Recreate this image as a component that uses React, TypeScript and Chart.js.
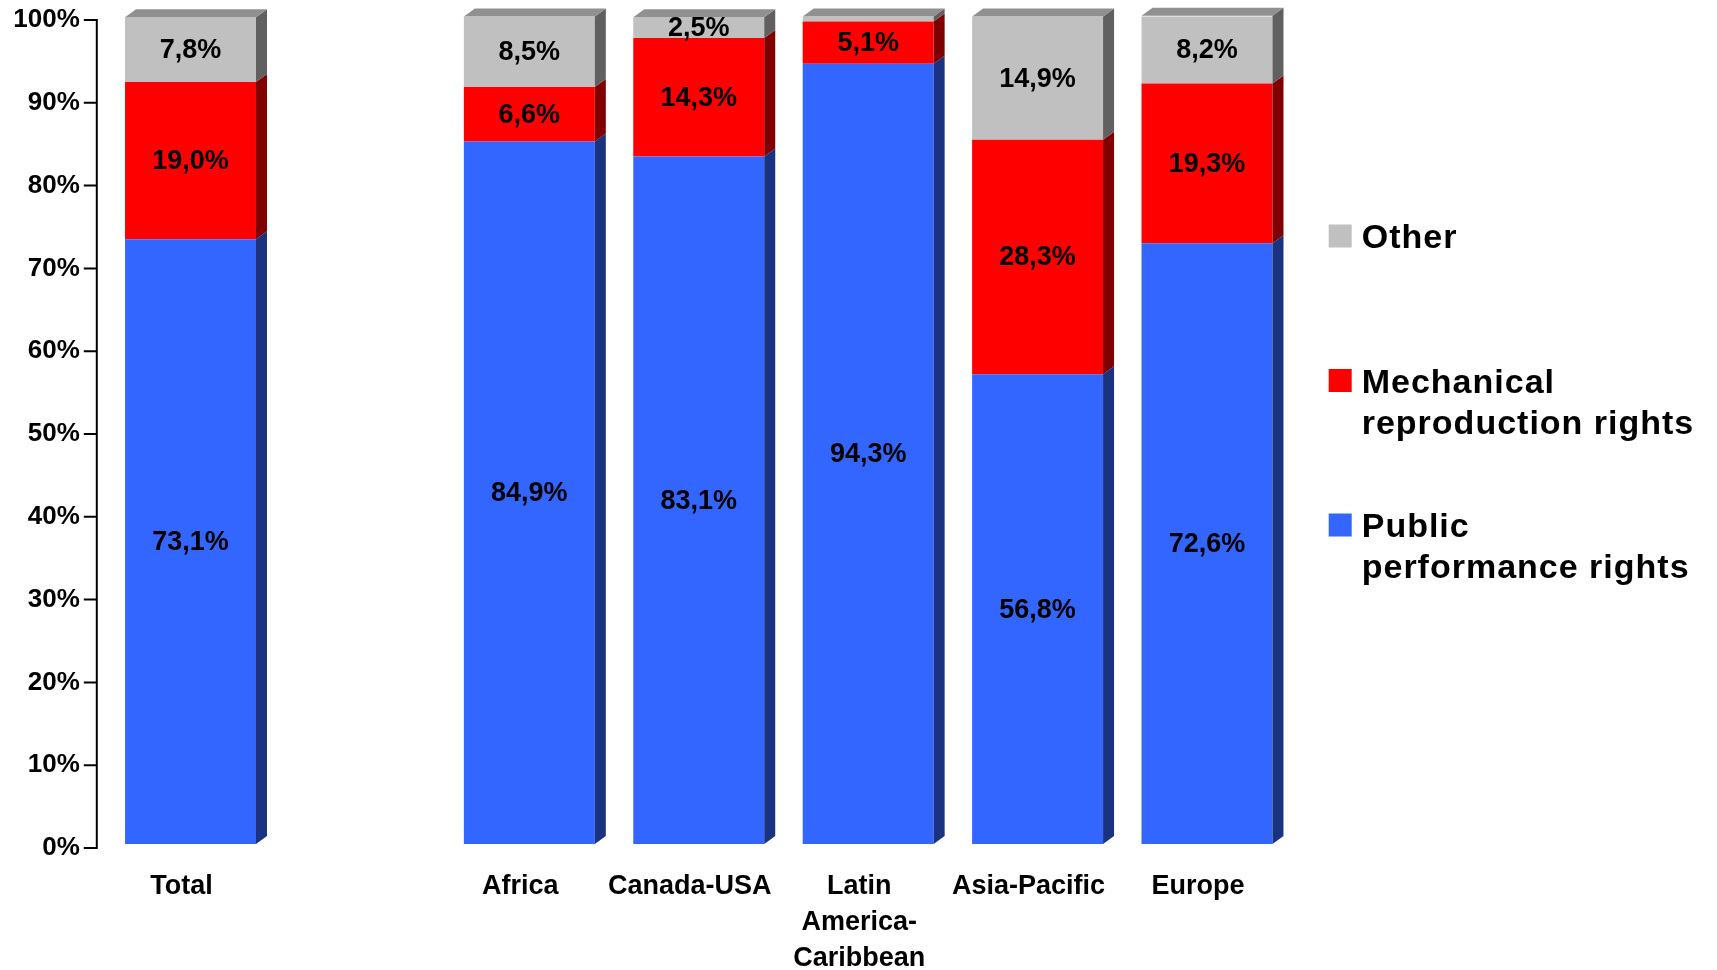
import React, { useEffect, useRef } from 'react';
import { Chart, registerables } from 'chart.js';

Chart.register(...registerables);

// Regions along the x axis; the empty slot separates the total from the regions.
const categories: (string | string[])[] = [
  'Total',
  '',
  'Africa',
  'Canada-USA',
  ['Latin', 'America-', 'Caribbean'],
  'Asia-Pacific',
  'Europe',
];

// Share of collections per right type, in percent.
const publicPerformance = [73.1, null, 84.9, 83.1, 94.3, 56.8, 72.6];
const mechanicalReproduction = [19.0, null, 6.6, 14.3, 5.1, 28.3, 19.3];
const otherRights = [7.8, null, 8.5, 2.5, 0.6, 14.9, 8.2];

const yTickValues = [0, 10, 20, 30, 40, 50, 60, 70, 80, 90, 100];

const seriesNames = ['Public performance rights', 'Mechanical reproduction rights', 'Other'];
const legendLines = [['Public', 'performance rights'], ['Mechanical', 'reproduction rights'], ['Other']];

const frontColors = ['#3366FF', '#FF0000', '#C0C0C0'];
const sideColors = ['#1A3380', '#800000', '#606060'];
const topColors = ['#2650BF', '#BF0000', '#909090'];

const FONT = '"Liberation Sans", Arial, Helvetica, sans-serif';
const DEPTH_X = 11;
const DEPTH_Y = 8;
const FRONT_LIFT = 3.5;
const CLEAR = 'rgba(0,0,0,0)';

const fmt = (v: number) => v.toFixed(1).replace('.', ',') + '%';

// Raises the bars (and their faces and labels) slightly above the floor line,
// as in a 3-D view. Listed last so its restore runs after the other dataset hooks.
const frontLift = {
  id: 'frontLift',
  beforeDatasetsDraw(chart: any) {
    chart.ctx.save();
    chart.ctx.translate(0, -FRONT_LIFT);
  },
  afterDatasetsDraw(chart: any) {
    chart.ctx.restore();
  },
};

// Side and top faces that give the bars their block look.
const depthFaces = {
  id: 'depthFaces',
  afterDatasetsDraw(chart: any) {
    const ctx = chart.ctx;
    const n = chart.data.datasets.length;
    ctx.save();
    chart.data.datasets.forEach((ds: any, i: number) => {
      const meta = chart.getDatasetMeta(i);
      meta.data.forEach((el: any, j: number) => {
        const v = ds.data[j];
        if (v == null) return;
        const { x, y, base, width } = el.getProps(['x', 'y', 'base', 'width'], true);
        const left = x - width / 2;
        const right = x + width / 2;
        const top = Math.min(y, base);
        const bottom = Math.max(y, base);
        ctx.fillStyle = sideColors[i];
        ctx.beginPath();
        ctx.moveTo(right, bottom);
        ctx.lineTo(right + DEPTH_X, bottom - DEPTH_Y);
        ctx.lineTo(right + DEPTH_X, top - DEPTH_Y);
        ctx.lineTo(right, top);
        ctx.closePath();
        ctx.fill();
        if (i === n - 1) {
          ctx.fillStyle = topColors[i];
          ctx.beginPath();
          ctx.moveTo(left, top);
          ctx.lineTo(left + DEPTH_X, top - DEPTH_Y);
          ctx.lineTo(right + DEPTH_X, top - DEPTH_Y);
          ctx.lineTo(right, top);
          ctx.closePath();
          ctx.fill();
        }
      });
    });
    ctx.restore();
  },
};

// Percentage printed in the middle of each segment.
const valueLabels = {
  id: 'valueLabels',
  afterDatasetsDraw(chart: any) {
    const ctx = chart.ctx;
    ctx.save();
    ctx.font = `bold 27px ${FONT}`;
    ctx.fillStyle = '#000';
    ctx.textAlign = 'center';
    ctx.textBaseline = 'middle';
    chart.data.datasets.forEach((ds: any, i: number) => {
      const meta = chart.getDatasetMeta(i);
      meta.data.forEach((el: any, j: number) => {
        const v = ds.data[j];
        if (v == null || v < 1) return;
        const { x, y, base } = el.getProps(['x', 'y', 'base'], true);
        ctx.fillText(fmt(v), x, (y + base) / 2 + 1);
      });
    });
    ctx.restore();
  },
};

// Value axis line with outward tick marks, set a little left of the bars.
const valueAxisLine = {
  id: 'valueAxisLine',
  afterDraw(chart: any) {
    const ctx = chart.ctx;
    const yScale = chart.scales.y;
    const ax = chart.chartArea.left - 9;
    ctx.save();
    ctx.strokeStyle = '#000';
    ctx.lineWidth = 2;
    ctx.beginPath();
    ctx.moveTo(ax, yScale.getPixelForValue(0) + 1);
    ctx.lineTo(ax, yScale.getPixelForValue(100) - 1);
    yTickValues.forEach((v) => {
      const py = yScale.getPixelForValue(v);
      ctx.moveTo(ax - 13, py);
      ctx.lineTo(ax, py);
    });
    ctx.stroke();
    ctx.restore();
  },
};

// Legend at the right, listed top-down from the top segment.
const sideLegend = {
  id: 'sideLegend',
  afterDraw(chart: any) {
    const ctx = chart.ctx;
    const area = chart.chartArea;
    const boxX = area.right + 37;
    const textX = boxX + 33;
    ctx.save();
    ctx.font = `bold 34px ${FONT}`;
    (ctx as any).letterSpacing = '1px';
    ctx.textAlign = 'left';
    ctx.textBaseline = 'alphabetic';
    const order = [2, 1, 0];
    order.forEach((di, k) => {
      const cy = area.top + 216 + k * 144.5;
      ctx.fillStyle = frontColors[di];
      ctx.fillRect(boxX, cy - 11.5, 23, 23);
      ctx.fillStyle = '#000';
      legendLines[di].forEach((line, li) => {
        ctx.fillText(line, textX, cy + 12 + li * 41);
      });
    });
    ctx.restore();
  },
};

export default function App() {
  const canvasRef = useRef<HTMLCanvasElement | null>(null);

  useEffect(() => {
    document.body.style.margin = '0';
    document.body.style.overflow = 'hidden';
    const canvas = canvasRef.current;
    if (!canvas) return;

    const seriesData = [publicPerformance, mechanicalReproduction, otherRights];

    const chart = new Chart(canvas, {
      type: 'bar',
      data: {
        labels: categories,
        datasets: seriesData.map((d, i) => ({
          label: seriesNames[i],
          data: d,
          backgroundColor: frontColors[i],
          borderWidth: 0,
          barPercentage: 0.773,
          categoryPercentage: 1,
        })),
      },
      options: {
        responsive: false,
        animation: false,
        layout: { padding: { top: 20, right: 425.3, left: 0, bottom: 0 } },
        plugins: {
          legend: { display: false },
          tooltip: { enabled: false },
        },
        scales: {
          x: {
            stacked: true,
            offset: true,
            grid: { display: true, drawOnChartArea: false, drawTicks: true, tickLength: 21, color: CLEAR },
            border: { display: false },
            ticks: {
              autoSkip: false,
              maxRotation: 0,
              padding: 0,
              labelOffset: -9,
              color: '#000',
              font: { family: FONT, size: 27, weight: 'bold', lineHeight: 1.333 },
            },
            afterFit: (s: any) => {
              s.height = 122;
            },
          },
          y: {
            stacked: true,
            min: 0,
            max: 100,
            grid: { display: true, drawOnChartArea: false, drawTicks: true, tickLength: 26, color: CLEAR },
            border: { display: false },
            ticks: {
              padding: 0,
              color: '#000',
              font: { family: FONT, size: 26, weight: 'bold' },
              callback: (v: any) => `${v}%`,
            },
            afterBuildTicks: (s: any) => {
              s.ticks = yTickValues.map((v) => ({ value: v }));
            },
            afterFit: (s: any) => {
              s.width = 105.8;
            },
          },
        },
      },
      plugins: [depthFaces, valueLabels, frontLift, valueAxisLine, sideLegend],
    });

    return () => chart.destroy();
  }, []);

  return (
    <div style={{ width: 1717, height: 970 }}>
      <canvas ref={canvasRef} width={1717} height={970} style={{ display: 'block' }} />
    </div>
  );
}
